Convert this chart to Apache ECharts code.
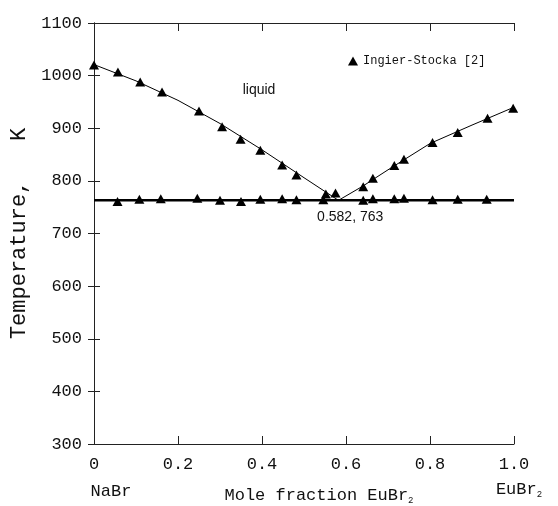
<!DOCTYPE html>
<html><head><meta charset="utf-8">
<script src="https://cdn.jsdelivr.net/npm/echarts@6/dist/echarts.min.js"></script>
<style>html,body{margin:0;padding:0;background:#fff}#c{width:558px;height:506px}</style>
</head><body><div id="c"></div>
<script>
// Experimental points (Ingier-Stocka [2]) – liquidus
const liquidusX = [0, 0.057, 0.11, 0.162, 0.25, 0.305, 0.349, 0.396, 0.448, 0.482, 0.552, 0.575,
                   0.641, 0.664, 0.715, 0.738, 0.806, 0.866, 0.937, 0.998];
const liquidusT = [1020, 1007, 988, 969, 933, 903, 879, 858, 830, 811, 775, 777,
                   789, 805, 829, 841, 873, 892, 919, 938];
// Experimental points – eutectic (solidus) arrests
const solidusX = [0.056, 0.108, 0.159, 0.246, 0.30, 0.35, 0.396, 0.448, 0.482, 0.546,
                  0.641, 0.664, 0.715, 0.738, 0.806, 0.866, 0.935];
const solidusT = [761, 765, 766, 767, 763, 761, 765, 766, 764, 764,
                  763, 766, 766, 767, 764, 765, 765];
// Calculated liquidus curves
const leftCurveX = [0, 0.1, 0.2, 0.3, 0.4, 0.5, 0.582];
const leftCurveT = [1021, 990, 953, 909, 859, 806, 763];
const rightCurveX = [0.582, 0.64, 0.7, 0.8, 0.9, 1.0];
const rightCurveT = [763, 790, 821, 871, 906, 940];
// Eutectic line
const eutecticX = [0, 1];
const eutecticT = [763, 763];
// Axis ticks
const xTickValues = [0, 0.2, 0.4, 0.6, 0.8, 1.0];
const xTickLabels = ['0', '0.2', '0.4', '0.6', '0.8', '1.0'];
const yTickValues = [300, 400, 500, 600, 700, 800, 900, 1000, 1100];
// Annotations (data coordinates)
const liquidText = 'liquid';
const liquidPos = [0.393, 973];
const eutecticText = '0.582, 763';
const eutecticLabelPos = [0.61, 732];

const zip = (xs, ys) => xs.map((x, i) => [x, ys[i]]);
const MONO = '"Liberation Mono", monospace';
const SANS = '"Liberation Sans", Arial, sans-serif';
const INK = '#111';

const chart = echarts.init(document.getElementById('c'), null, {renderer: 'canvas'});

const xLabelMap = {};
xTickValues.forEach((v, i) => { xLabelMap[v.toFixed(1)] = xTickLabels[i]; });
const yLabelMap = {};
yTickValues.forEach(v => { yLabelMap[v] = String(v); });

const axisCommon = {
  type: 'value',
  axisLine: {show: true, lineStyle: {color: '#222', width: 1}},
  splitLine: {show: false},
};

chart.setOption({
  animation: false,
  backgroundColor: '#fff',
  grid: {left: 94, right: 44, top: 23, bottom: 62, containLabel: false, outerBoundsMode: 'none'},
  legend: {
    data: ['Ingier-Stocka [2]'],
    left: 348, top: 55,
    icon: 'triangle', itemWidth: 10, itemHeight: 9,
    textStyle: {fontFamily: MONO, fontSize: 12, color: INK},
    padding: 0
  },
  xAxis: [
    Object.assign({}, axisCommon, {
      min: 0, max: 1, interval: 0.2, position: 'bottom',
      axisTick: {show: true, inside: true, length: 8, lineStyle: {color: '#222'}},
      axisLabel: {
        show: true, margin: 12, fontFamily: MONO, fontSize: 17, color: INK,
        formatter: v => xLabelMap[v.toFixed(1)]
      },
      name: '{a|Mole fraction EuBr}{s|2}',
      nameLocation: 'middle', nameGap: 41,
      nameTextStyle: {
        padding: [0, 0, 0, 30],
        rich: {
          a: {fontFamily: MONO, fontSize: 17, color: INK, lineHeight: 20},
          s: {fontFamily: MONO, fontSize: 9, color: INK, lineHeight: 20, verticalAlign: 'bottom'}
        }
      }
    }),
    Object.assign({}, axisCommon, {
      min: 0, max: 1, interval: 0.2, position: 'top',
      axisTick: {show: true, inside: true, length: 8, lineStyle: {color: '#222'}},
      axisLabel: {show: false}
    })
  ],
  yAxis: [
    Object.assign({}, axisCommon, {
      min: 300, max: 1100, interval: 100, position: 'left',
      axisTick: {show: true, inside: true, length: 6, lineStyle: {color: '#222'}},
      axisLabel: {show: true, margin: 12, fontFamily: MONO, fontSize: 17, color: INK,
                  formatter: v => yLabelMap[v] || String(v)},
      name: 'Temperature,   K',
      nameLocation: 'middle', nameGap: 56,
      nameTextStyle: {fontFamily: MONO, fontSize: 22, color: INK}
    }),
    Object.assign({}, axisCommon, {
      min: 300, max: 1100, interval: 100, position: 'right',
      axisTick: {show: true, inside: true, length: 6, lineStyle: {color: '#222'}},
      axisLabel: {show: false}
    })
  ],
  series: [
    {
      name: 'eutectic', type: 'line', data: zip(eutecticX, eutecticT),
      showSymbol: false, symbol: 'none', silent: true,
      lineStyle: {color: '#000', width: 2.5}, z: 2
    },
    {
      name: 'liqL', type: 'line', data: zip(leftCurveX, leftCurveT),
      smooth: false, showSymbol: false, symbol: 'none', silent: true,
      lineStyle: {color: '#000', width: 1}, z: 2
    },
    {
      name: 'liqR', type: 'line', data: zip(rightCurveX, rightCurveT),
      smooth: false, showSymbol: false, symbol: 'none', silent: true,
      lineStyle: {color: '#000', width: 1}, z: 2
    },
    {
      name: 'Ingier-Stocka [2]', type: 'scatter',
      data: zip(liquidusX, liquidusT).concat(zip(solidusX, solidusT)),
      symbol: 'triangle', symbolSize: [10, 9],
      itemStyle: {color: '#000', opacity: 1}, z: 3
    }
  ]
});

function px(p) { return chart.convertToPixel({gridIndex: 0}, p); }
const pL = px(liquidPos);
const pE = px(eutecticLabelPos);
const p0 = px([0, 300]);
const p1 = px([1, 300]);

chart.setOption({
  graphic: [
    {type: 'text', x: pL[0], y: pL[1], style: {text: liquidText, font: '14px ' + SANS, fill: INK, align: 'center', verticalAlign: 'middle'}},
    {type: 'text', x: pE[0], y: pE[1], style: {text: eutecticText, font: '14px ' + SANS, fill: INK, align: 'center', verticalAlign: 'middle'}},
    {type: 'text', x: p0[0] + 17, y: p0[1] + 47, style: {text: 'NaBr', font: '17px ' + MONO, fill: INK, align: 'center', verticalAlign: 'middle'}},
    {type: 'text', x: p1[0] + 5, y: p1[1] + 45, style: {
      text: '{a|EuBr}{s|2}', align: 'center', verticalAlign: 'middle',
      rich: {
        a: {fontFamily: MONO, fontSize: 17, fill: INK, lineHeight: 20},
        s: {fontFamily: MONO, fontSize: 9, fill: INK, lineHeight: 20, verticalAlign: 'bottom'}
      }
    }}
  ]
});
</script>
</body></html>
